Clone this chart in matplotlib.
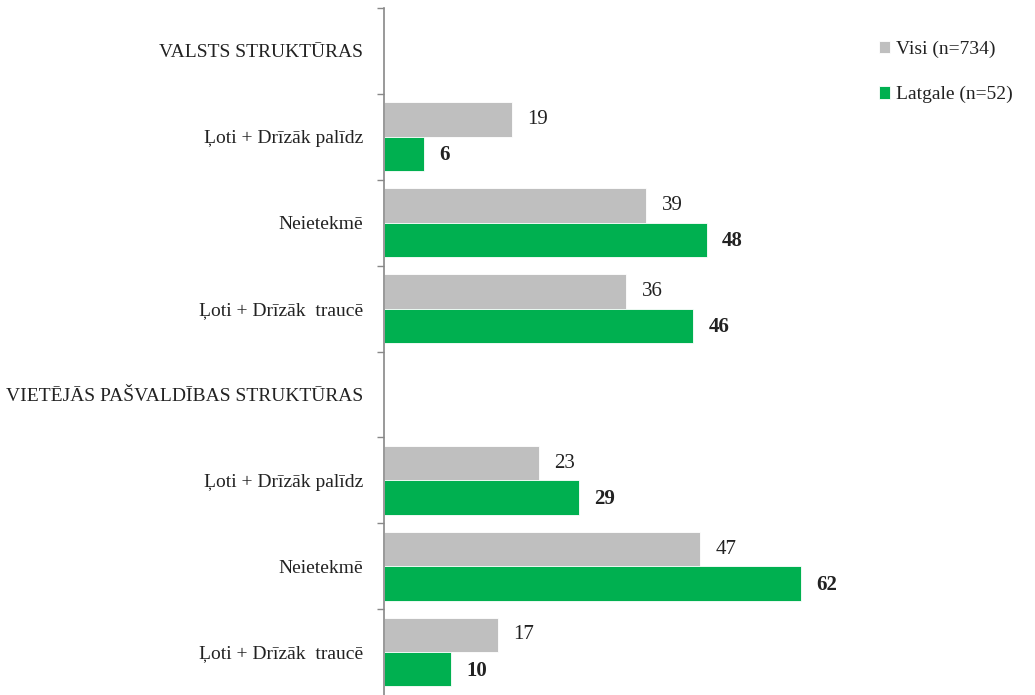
import numpy as np
import matplotlib.pyplot as plt

# categories top to bottom (header rows have no bars)
categories = ["VALSTS STRUKTŪRAS", "Ļoti + Drīzāk palīdz", "Neietekmē", "Ļoti + Drīzāk  traucē",
              "VIETĒJĀS PAŠVALDĪBAS STRUKTŪRAS", "Ļoti + Drīzāk palīdz", "Neietekmē", "Ļoti + Drīzāk  traucē"]
visi = [None, 19, 39, 36, None, 23, 47, 17]
latgale = [None, 6, 48, 46, None, 29, 62, 10]
series_names = ["Visi (n=734)", "Latgale (n=52)"]

gray = '#BFBFBF'
green = '#00B050'

plt.rcParams['font.family'] = ['Liberation Serif', 'DejaVu Serif']

fig = plt.figure(figsize=(10.35, 6.95), dpi=100)
ax = fig.add_axes([384 / 1035, 0.0, 0.455, 1 - 8 / 695])

n = len(categories)
y = np.arange(n)
h = 0.4
for i in range(n):
    if visi[i] is None:
        continue
    ax.barh(y[i] - h / 2, visi[i], height=h, color=gray, edgecolor='white', linewidth=0.6,
            label=series_names[0] if i == 1 else None)
    ax.barh(y[i] + h / 2, latgale[i], height=h, color=green, edgecolor='white', linewidth=0.6,
            label=series_names[1] if i == 1 else None)
    ax.annotate(str(visi[i]), (visi[i], y[i] - h / 2), xytext=(11, 0), textcoords='offset points',
                ha='left', va='center', fontsize=15, color='#222222')
    ax.annotate(str(latgale[i]), (latgale[i], y[i] + h / 2), xytext=(11, -1), textcoords='offset points',
                ha='left', va='center', fontsize=15, fontweight='bold', color='#222222')

ax.set_ylim(n - 0.5, -0.5)
ax.set_xlim(0, 70)
ax.set_yticks(y)
ax.set_yticklabels(categories, fontsize=14, color='#222222')
ax.set_yticks(np.arange(n) - 0.5, minor=True)
ax.tick_params(axis='y', which='major', length=0, pad=15)
ax.tick_params(axis='y', which='minor', length=5, color='#888888', width=1)
ax.set_xticks([])
for s in ['top', 'right', 'bottom']:
    ax.spines[s].set_visible(False)
ax.spines['left'].set_color('#888888')
ax.spines['left'].set_linewidth(1.2)

fig.legend(loc='upper left', bbox_to_anchor=(0.832, 0.967), frameon=False, fontsize=14,
           handlelength=0.6, handleheight=0.6, handletextpad=0.3, labelspacing=1.45,
           labelcolor='#222222')

fig.savefig('out.png', dpi=100)
